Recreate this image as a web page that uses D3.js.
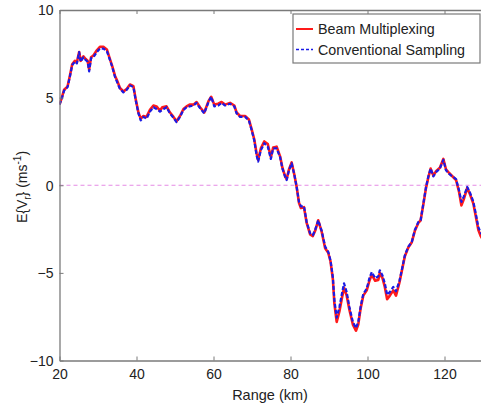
<!DOCTYPE html>
<html>
<head>
<meta charset="utf-8">
<script src="https://cdn.jsdelivr.net/npm/d3@7"></script>
<style>
  body { margin: 0; background: #fff; }
  svg { display: block; font-family: "Liberation Sans", Arial, sans-serif; }
</style>
</head>
<body>
<svg id="chart" width="481" height="407"></svg>
<script>
// Range gates (km)
const rangeKm = [20.0,20.6,21.2,21.7,22.1,22.7,23.3,24.0,24.5,25.1,25.5,26.2,26.8,27.3,27.7,28.2,28.8,29.7,30.5,31.4,32.3,33.1,33.7,34.4,35.1,35.7,36.6,37.5,38.3,39.2,39.8,40.5,41.1,41.8,42.6,43.5,44.4,45.2,46.1,46.7,47.8,48.7,49.6,50.4,51.3,52.2,53.0,53.8,54.8,55.6,56.5,57.6,58.7,59.4,60.2,61.2,62.1,63.0,64.3,65.4,66.0,66.9,68.2,69.2,69.9,70.6,71.2,71.6,72.3,73.2,74.1,74.9,75.5,76.4,77.3,77.9,78.6,79.0,79.6,80.3,81.0,81.6,82.2,82.7,83.5,84.2,85.1,85.8,86.4,87.2,88.1,89.0,89.8,90.4,91.0,91.4,92.0,92.7,93.3,93.9,94.6,95.3,96.2,97.0,97.6,98.2,98.9,99.8,100.5,101.1,102.0,102.8,103.2,103.9,104.5,105.1,105.8,106.7,107.4,108.3,108.9,109.7,110.6,111.5,112.3,113.2,113.8,114.5,115.2,115.8,116.4,117.1,117.8,118.8,119.7,120.4,121.2,122.1,123.0,123.8,124.4,125.0,125.9,126.6,127.5,128.2,128.8,129.4,130.0];

// Mean radial velocity, beam multiplexing (m/s)
const beamMultiplexing = [4.6,5.0,5.45,5.55,5.65,6.25,6.9,7.1,7.0,7.6,7.1,7.35,7.2,7.1,6.6,7.3,7.4,7.7,7.9,7.9,7.75,7.2,6.8,6.25,5.9,5.55,5.35,5.5,5.75,5.65,4.9,4.15,3.8,3.95,3.9,4.3,4.55,4.5,4.25,4.45,4.5,4.15,3.9,3.65,3.95,4.35,4.5,4.6,4.6,4.75,4.45,4.15,4.8,5.05,4.6,4.65,4.75,4.6,4.7,4.55,4.15,3.95,3.95,3.75,3.2,2.6,1.8,1.45,2.1,2.5,2.35,1.6,2.15,2.2,1.65,1.0,0.5,0.35,0.9,1.3,0.6,-0.1,-1.0,-1.3,-1.25,-2.15,-2.8,-2.9,-2.6,-2.0,-2.65,-3.6,-3.85,-4.35,-5.35,-6.75,-7.8,-7.2,-6.5,-5.85,-6.3,-7.1,-7.95,-8.3,-7.95,-7.05,-6.3,-6.0,-5.45,-5.1,-5.45,-5.4,-5.0,-5.3,-5.8,-6.5,-6.3,-6.0,-6.3,-5.55,-4.9,-4.05,-3.55,-3.25,-2.6,-2.15,-2.0,-1.1,-0.15,0.45,0.95,0.55,0.8,1.0,1.5,0.9,0.7,0.5,0.3,-0.4,-1.15,-0.8,-0.15,-0.5,-1.05,-1.85,-2.55,-2.9,-3.1];

// Mean radial velocity, conventional sampling (m/s)
const conventionalSampling = [4.6,4.95,5.4,5.5,5.6,6.2,6.85,7.05,6.95,7.6,7.05,7.3,7.15,7.05,6.5,7.25,7.3,7.6,7.8,7.8,7.65,7.15,6.75,6.2,5.8,5.5,5.3,5.45,5.7,5.6,4.85,4.1,3.7,3.9,3.8,4.2,4.45,4.35,4.2,4.3,4.45,4.1,3.85,3.6,3.9,4.3,4.45,4.5,4.55,4.7,4.4,4.1,4.75,5.05,4.5,4.55,4.7,4.55,4.65,4.5,4.1,3.9,3.9,3.7,3.15,2.55,1.7,1.35,2.0,2.4,2.2,1.5,2.1,2.1,1.6,0.95,0.5,0.3,0.85,1.25,0.6,-0.1,-0.95,-1.2,-1.2,-2.1,-2.75,-2.85,-2.55,-2.0,-2.6,-3.5,-3.8,-4.3,-5.25,-6.55,-7.55,-6.95,-6.25,-5.6,-6.1,-6.95,-7.8,-8.15,-7.8,-6.95,-6.2,-5.9,-5.3,-4.95,-5.3,-5.2,-4.85,-5.15,-5.6,-6.25,-6.1,-5.8,-6.05,-5.45,-4.85,-4.0,-3.5,-3.25,-2.55,-2.1,-2.0,-1.05,-0.1,0.5,0.95,0.5,0.75,0.95,1.45,0.85,0.65,0.5,0.35,-0.3,-0.95,-0.65,-0.1,-0.4,-0.95,-1.7,-2.4,-2.7,-2.9];

const xTicks = [20, 40, 60, 80, 100, 120];
const yTicks = [-10, -5, 0, 5, 10];
const seriesNames = ["Beam Multiplexing", "Conventional Sampling"];

const svg = d3.select("#chart");
const plotLeft = 59.5, plotTop = 10, plotBottom = 360.5, plotRight = 483;

const x = d3.scaleLinear().domain([20, 130]).range([plotLeft, plotRight]);
const y = d3.scaleLinear().domain([-10, 10]).range([plotBottom, plotTop]);

const axisColor = "#7a7a7a";
const textColor = "#222";

// Clip marks to the plot box
svg.append("defs").append("clipPath").attr("id", "plotClip")
  .append("rect").attr("x", plotLeft).attr("y", plotTop)
  .attr("width", plotRight - plotLeft).attr("height", plotBottom - plotTop);

// Zero reference line
svg.append("line")
  .attr("x1", plotLeft).attr("x2", plotRight)
  .attr("y1", y(0)).attr("y2", y(0))
  .attr("stroke", "#e58ae5").attr("stroke-width", 1)
  .attr("stroke-dasharray", "4,3");

const line = d3.line().x(d => x(d[0])).y(d => y(d[1]));
const plot = svg.append("g").attr("clip-path", "url(#plotClip)");

plot.append("path")
  .datum(rangeKm.map((r, i) => [r, beamMultiplexing[i]]))
  .attr("d", line).attr("fill", "none")
  .attr("stroke", "#ff1a1a").attr("stroke-width", 2.6)
  .attr("stroke-linejoin", "round");

plot.append("path")
  .datum(rangeKm.map((r, i) => [r, conventionalSampling[i]]))
  .attr("d", line).attr("fill", "none")
  .attr("stroke", "#1a1ae6").attr("stroke-width", 2.2)
  .attr("stroke-dasharray", "4,2")
  .attr("stroke-linejoin", "round");

// Axes with inward ticks (bottom/left labelled, top unlabelled)
const tickLen = 4;
const gx = svg.append("g").attr("transform", `translate(0,${plotBottom})`)
  .call(d3.axisBottom(x).tickValues(xTicks).tickSizeInner(-tickLen).tickSizeOuter(0).tickPadding(10));
const gxTop = svg.append("g").attr("transform", `translate(0,${plotTop})`)
  .call(d3.axisTop(x).tickValues(xTicks).tickSizeInner(-tickLen).tickSizeOuter(0).tickFormat(""));
const gy = svg.append("g").attr("transform", `translate(${plotLeft},0)`)
  .call(d3.axisLeft(y).tickValues(yTicks).tickSizeInner(-tickLen).tickSizeOuter(0).tickPadding(6));

[gx, gxTop, gy].forEach(g => {
  g.select(".domain").attr("stroke", axisColor).attr("stroke-width", 1.3);
  g.selectAll(".tick line").attr("stroke", axisColor).attr("stroke-width", 1);
  g.selectAll(".tick text").attr("fill", textColor).attr("font-size", 14)
    .attr("font-family", "Liberation Sans, Arial, sans-serif");
});
gx.selectAll(".tick text").attr("dy", "0.6em");
gy.selectAll(".tick text").attr("dy", "0.35em");

// Axis titles
svg.append("text")
  .attr("x", 270).attr("y", 400).attr("text-anchor", "middle")
  .attr("font-size", 14.5).attr("fill", textColor)
  .text("Range (km)");

const yl = svg.append("text")
  .attr("transform", "translate(27,187) rotate(-90)")
  .attr("text-anchor", "middle")
  .attr("font-size", 14).attr("fill", textColor);
yl.append("tspan").text("E{V");
yl.append("tspan").attr("font-size", 10).attr("dy", 4).text("r");
yl.append("tspan").attr("dy", -4).text("} (ms");
yl.append("tspan").attr("font-size", 10).attr("dy", -6).text("-1");
yl.append("tspan").attr("dy", 6).text(")");

// Legend
const lg = svg.append("g");
lg.append("rect")
  .attr("x", 293).attr("y", 14).attr("width", 187).attr("height", 49)
  .attr("fill", "#fff").attr("stroke", axisColor).attr("stroke-width", 1.2);
const legendStyles = [
  { color: "#ff1a1a", dash: null, w: 2 },
  { color: "#1a1ae6", dash: "3,2", w: 1.6 }
];
seriesNames.forEach((name, i) => {
  const cy = 29 + i * 20.5;
  lg.append("line")
    .attr("x1", 296).attr("x2", 313).attr("y1", cy).attr("y2", cy)
    .attr("stroke", legendStyles[i].color).attr("stroke-width", legendStyles[i].w)
    .attr("stroke-dasharray", legendStyles[i].dash);
  lg.append("text")
    .attr("x", 318).attr("y", cy).attr("dy", "0.36em")
    .attr("font-size", 14.3).attr("fill", textColor)
    .text(name);
});
</script>
</body>
</html>
